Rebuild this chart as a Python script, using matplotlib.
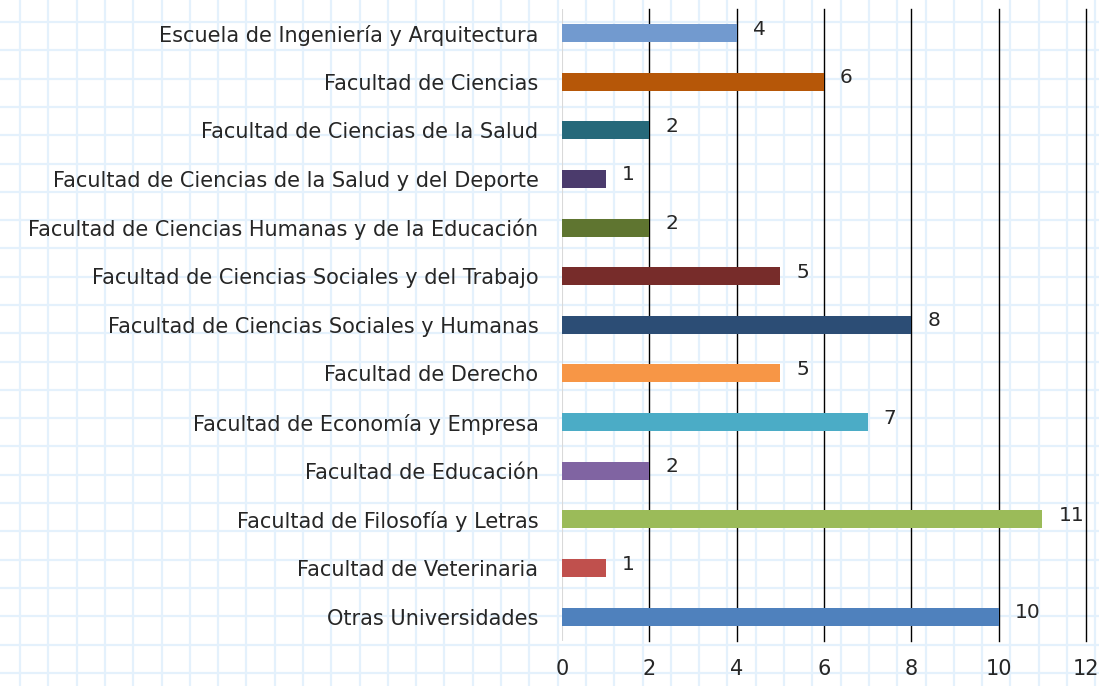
import numpy as np
from matplotlib import pyplot as plt

plt.rcParams['font.family'] = ['DejaVu Sans']

facultades = ['Escuela de Ingeniería y Arquitectura',
              'Facultad de Ciencias',
              'Facultad de Ciencias de la Salud',
              'Facultad de Ciencias de la Salud y del Deporte',
              'Facultad de Ciencias Humanas y de la Educación',
              'Facultad de Ciencias Sociales y del Trabajo',
              'Facultad de Ciencias Sociales y Humanas',
              'Facultad de Derecho',
              'Facultad de Economía y Empresa',
              'Facultad de Educación',
              'Facultad de Filosofía y Letras',
              'Facultad de Veterinaria',
              'Otras Universidades']
valores = [4, 6, 2, 1, 2, 5, 8, 5, 7, 2, 11, 1, 10]
colores = ['#729acf', '#b65708', '#26697a', '#4b3b6c', '#5f7530', '#772c2a',
           '#2c4d75', '#f79646', '#4bacc6', '#8064a2', '#9bbb59', '#c0504d',
           '#4f81bd']

fig = plt.figure(figsize=(10.99, 6.86), dpi=100)

# fondo cuadriculado
bg = fig.add_axes([0, 0, 1, 1], zorder=-1)
bg.set_xlim(0, 1099)
bg.set_ylim(686, 0)
bg.axis('off')
for x in np.arange(20, 1099, 28.3):
    bg.axvline(x, color='#e4f1fc', lw=1.6)
for y in np.arange(22, 686, 28.3):
    bg.axhline(y, color='#e4f1fc', lw=1.6)

ax = fig.add_axes([0.5114, 0.0656, 0.4768, 0.9217])
ax.patch.set_alpha(0)

pos = np.arange(len(facultades))
ax.barh(pos, valores, height=0.37, color=colores, zorder=3)
for p, v in zip(pos, valores):
    ax.annotate(str(v), (v, p), xytext=(16, 4), textcoords='offset pixels',
                ha='left', va='center', fontsize=14.5, color='#262626')

ax.set_xlim(0, 12)
ax.set_ylim(len(facultades) - 0.5, -0.5)
ax.set_xticks(range(0, 13, 2))
ax.set_yticks(pos)
ax.set_yticklabels(facultades)
ax.tick_params(axis='both', length=0, labelsize=15, colors='#262626')
ax.tick_params(axis='y', pad=17)
ax.tick_params(axis='x', pad=13)
for s in ax.spines.values():
    s.set_visible(False)
for x in range(2, 13, 2):
    ax.axvline(x, color='black', lw=1, zorder=1, clip_on=False)
ax.axvline(0, color='#d9d9d9', lw=1.5, zorder=1)

plt.savefig('out.png', dpi=100)
